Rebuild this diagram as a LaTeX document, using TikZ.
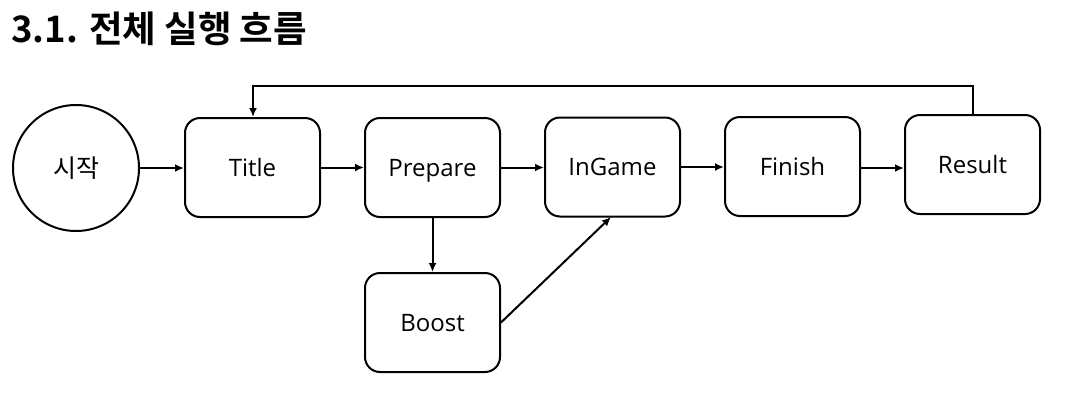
\documentclass[tikz,border=0pt]{standalone}
\usepackage{fontspec}
\setmainfont{Open Sans}
\newfontfamily\kr{Noto Sans CJK KR}
\newfontfamily\krb{Noto Sans CJK KR Bold}
\usetikzlibrary{arrows.meta}
\begin{document}
\begin{tikzpicture}[x=1pt,y=-1pt,
  box/.style={draw, line width=2pt, rounded corners=15pt, minimum width=135pt, minimum height=99pt, inner sep=0pt, text height=17pt, text depth=0pt, font=\fontsize{24}{27}\selectfont},
  conn/.style={line width=2pt, -{Latex[length=9pt,width=8pt]}}]
\useasboundingbox (0,0) rectangle (1088,405);
\node[anchor=west, inner sep=0pt, font=\krb\fontsize{36.5}{40}\selectfont] (hd) at (11,29) {3.1. 전체 실행 흐름};
\node[draw, circle, line width=2pt, minimum size=126pt, inner sep=0pt, font=\kr\fontsize{25}{28}\selectfont] (start) at (76,168) {시작};
\node[box] (title) at (252.5,167.5) {Title};
\node[box] (prep) at (432.5,167.5) {Prepare};
\node[box] (ingame) at (612.5,167) {InGame};
\node[box] (finish) at (792.5,166.5) {Finish};
\node[box] (result) at (972.5,164.5) {Result};
\node[box] (boost) at (432.5,322.5) {Boost};
\coordinate (lr) at (973,86);
\coordinate (ll) at (253,86);
\draw[conn] (start.east) -- (start.east -| title.west);
\draw[conn] (title.east) -- (title.east -| prep.west);
\draw[conn] (prep.east) -- (prep.east -| ingame.west);
\draw[conn] (ingame.east) -- (ingame.east -| finish.west);
\draw[conn] (finish.east) ++(0,1.5) coordinate (fe) -- (fe -| result.west);
\draw[conn] (prep.south) -- (boost.north);
\draw[conn] (boost.east) -- (611,217);
\draw[conn] (result.north -| lr) -- (lr) -- (ll) -- (ll |- title.north);
\end{tikzpicture}
\end{document}
